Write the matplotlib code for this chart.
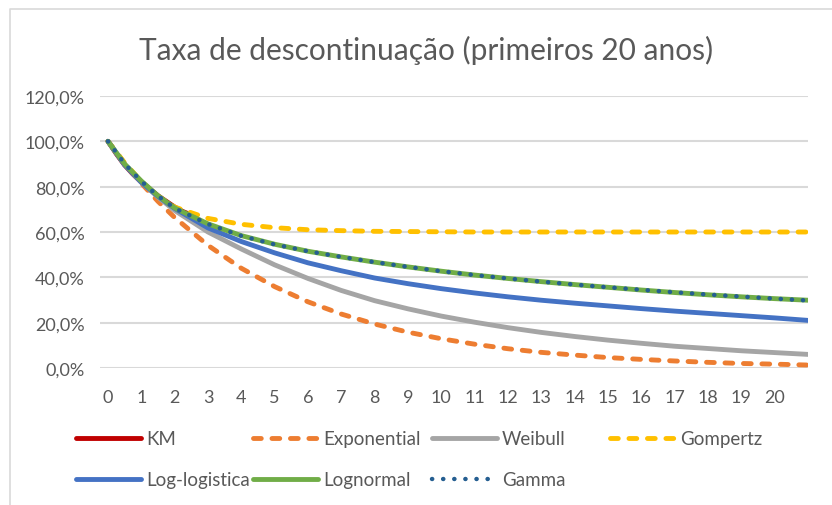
import matplotlib
matplotlib.use("Agg")
import matplotlib.pyplot as plt
from matplotlib.lines import Line2D
from matplotlib.ticker import FuncFormatter

plt.rcParams['font.family'] = ['Lato', 'DejaVu Sans']

# Years on the horizontal axis (finer steps early where the curves bend)
years = [0, 0.5, 1, 1.5, 2, 3, 4, 5, 6, 7, 8, 9, 10, 11, 12,
         13, 14, 15, 16, 17, 18, 19, 20, 21]

# Kaplan-Meier only covers the first couple of years
km_years = [0, 0.25, 0.5, 0.75, 1, 1.25, 1.5, 1.75, 2, 2.25, 2.5]
km = [100, 94.5, 89.5, 85.5, 82.0, 79.0, 76.0, 73.5, 71.0, 69.0, 67.5]

# Fitted survival curves, in percent
exponential = [100, 90.3, 81.5, 73.5, 66.4, 54.1, 44.0, 35.9, 29.2, 23.8, 19.4,
               15.8, 12.9, 10.5, 8.5, 6.9, 5.7, 4.6, 3.8, 3.1, 2.5, 2.0, 1.7, 1.3]
weibull = [100, 89.7, 82.0, 75.4, 69.5, 60.0, 52.5, 45.5, 39.5, 34.2, 29.7,
           26.1, 22.9, 20.2, 17.8, 15.7, 13.9, 12.3, 10.9, 9.6, 8.6, 7.6, 6.8, 6.0]
gompertz = [100, 90.5, 82.3, 75.8, 71.0, 66.0, 63.4, 61.9, 61.0, 60.6, 60.3,
            60.2, 60.1, 60.0, 60.0, 60.0, 60.0, 60.0, 60.0, 60.0, 60.0, 60.0, 60.0, 60.0]
loglogistic = [100, 89.6, 81.9, 75.7, 70.4, 61.8, 55.8, 50.8, 46.4, 42.9, 39.7,
               37.2, 35.0, 33.1, 31.4, 29.9, 28.6, 27.4, 26.2, 25.1, 24.1, 23.1, 22.1, 21.0]
lognormal = [100, 90.0, 82.5, 76.0, 70.6, 63.6, 58.4, 54.6, 51.5, 49.0, 46.7,
             44.6, 42.7, 41.0, 39.5, 38.1, 36.8, 35.6, 34.4, 33.3, 32.3, 31.4, 30.6, 29.9]
gamma = [100, 90.1, 82.4, 75.9, 70.5, 63.5, 58.3, 54.5, 51.5, 49.0, 46.7,
         44.6, 42.7, 41.0, 39.5, 38.1, 36.8, 35.6, 34.5, 33.4, 32.4, 31.5, 30.6, 29.8]

x_ticks = list(range(0, 21))
y_ticks = [0, 20, 40, 60, 80, 100, 120]

text_gray = '#595959'
grid_gray = '#D9D9D9'

fig = plt.figure(figsize=(8.32, 5.06), dpi=100)
ax = fig.add_axes([100 / 832, 1 - 369 / 506, 708 / 832, 272 / 506])

lw = 3.5
lines = []
lines.append(ax.plot(km_years, km, color='#C00000', lw=lw,
                     solid_capstyle='round', label='KM')[0])
lines.append(ax.plot(years, exponential, color='#ED7D31', lw=lw,
                     dashes=(1.6, 2.2), dash_capstyle='round',
                     label='Exponential')[0])
lines.append(ax.plot(years, weibull, color='#A5A5A5', lw=lw,
                     solid_capstyle='round', label='Weibull')[0])
lines.append(ax.plot(years, gompertz, color='#FFC000', lw=lw,
                     dashes=(1.6, 2.2), dash_capstyle='round',
                     label='Gompertz')[0])
lines.append(ax.plot(years, loglogistic, color='#4472C4', lw=lw,
                     solid_capstyle='round', label='Log-logistica')[0])
lines.append(ax.plot(years, lognormal, color='#70AD47', lw=lw,
                     solid_capstyle='round', label='Lognormal')[0])
lines.append(ax.plot(years, gamma, color='#255E91', lw=3.2,
                     dashes=(0.05, 2.45), dash_capstyle='round',
                     label='Gamma')[0])

ax.set_xlim(-0.24, 21.0)
ax.set_ylim(0, 120)
ax.set_xticks(x_ticks)
ax.set_yticks(y_ticks)
ax.yaxis.set_major_formatter(FuncFormatter(lambda v, p: f'{v:.1f}%'.replace('.', ',')))
ax.tick_params(length=0, labelsize=13, colors=text_gray)
ax.tick_params(axis='y', pad=11)
ax.tick_params(axis='x', pad=15)
ax.grid(axis='y', color=grid_gray, lw=1.5)
ax.set_axisbelow(True)
for s in ax.spines.values():
    s.set_visible(False)

fig.text(426 / 832, 1 - 50 / 506, 'Taxa de descontinuação (primeiros 20 anos)',
         ha='center', va='center', fontsize=21.5, color=text_gray)

# Legend laid out as a 4 x 2 grid, one entry at a time
col_x = [76, 253, 432, 610]
row_y = [440, 481]
for i, ln in enumerate(lines):
    r, c = divmod(i, 4)
    fig.legend(handles=[ln], loc='center left',
               bbox_to_anchor=(col_x[c] / 832, 1 - row_y[r] / 506),
               frameon=False, fontsize=13.5, handlelength=3.45,
               handletextpad=0.28, borderpad=0, borderaxespad=0,
               labelcolor=text_gray)

# Thin chart-area border (top and left)
fig.add_artist(Line2D([10 / 832, 10 / 832, 1], [0, 1 - 10 / 506, 1 - 10 / 506],
                      color=grid_gray, lw=1.2, transform=fig.transFigure))

fig.savefig('out.png', dpi=100)
